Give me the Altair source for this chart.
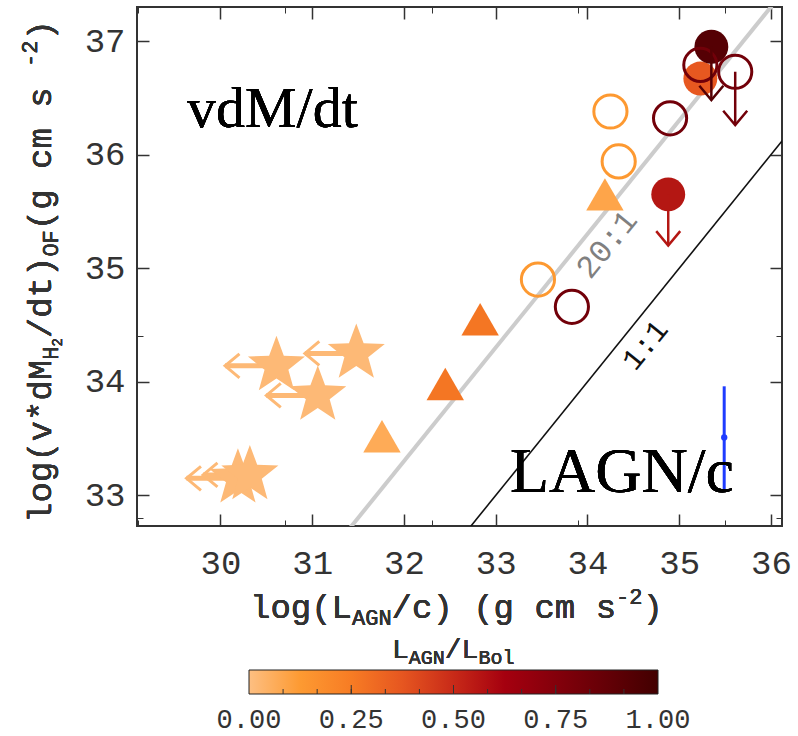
import altair as alt
import numpy as np
import pandas as pd

MONO = "Liberation Mono"
SERIF = "Liberation Serif"

# ---------------- data ----------------
# Stars: upper limits on log(L_AGN/c) (arrow to the left)
star_x = [30.61, 31.48, 31.06, 30.19, 30.32]
star_y = [34.14, 34.25, 33.88, 33.15, 33.18]
star_xlim = [30.05, 30.92, 30.50, 29.63, 29.81]
star_frac = [0.02, 0.02, 0.02, 0.02, 0.02]

# Triangles
tri_x = [31.76, 32.45, 32.83, 34.19]
tri_y = [33.52, 33.98, 34.55, 35.65]
tri_frac = [0.07, 0.27, 0.27, 0.09]

# Open circles
oc_x = [33.46, 34.25, 34.34, 33.83, 34.90, 35.23, 35.61]
oc_y = [34.90, 36.38, 35.94, 34.66, 36.32, 36.79, 36.73]
oc_frac = [0.13, 0.13, 0.13, 0.82, 0.82, 0.82, 0.82]

# Filled circles
fc_x = [35.23, 34.88, 35.35]
fc_y = [36.67, 35.65, 36.95]
fc_frac = [0.37, 0.57, 0.93]

# Upper limits on the outflow force (arrow downwards)
ul_x = [34.88, 35.61, 35.35]
ul_y = [35.65, 36.73, 36.95]
ul_ylim = [35.20, 36.26, 36.48]
ul_frac = [0.57, 0.82, 0.93]

# Typical uncertainty
err_x = [35.49]
err_y = [33.51]
err_lo = [33.04]
err_hi = [33.96]

# Reference ratios F_OF : L_AGN/c
ratio_values = [20, 1]
ratio_labels = ["20:1", "1:1"]
ratio_label_x = [34.21, 34.63]
ratio_label_y = [35.21, 34.32]
line_x = [29.0, 37.0]

x_ticks = [30, 31, 32, 33, 34, 35, 36]
y_ticks = [33, 34, 35, 36, 37]
cbar_ticks = [0.0, 0.25, 0.5, 0.75, 1.0]
cbar_labels = ["0.00", "0.25", "0.50", "0.75", "1.00"]
cbar_minor = [k / 12 for k in range(1, 12)]

cmap_stops = [0.0, 0.125, 0.25, 0.375, 0.5, 0.625, 0.75, 0.875, 1.0]
cmap_colors = ["#fdbf82", "#fd9a32", "#f77c24", "#e65620", "#c82a18",
               "#a5000f", "#84000b", "#640006", "#420000"]

# ---------------- tables ----------------
stars = pd.DataFrame(dict(x=star_x, y=star_y, xlim=star_xlim, frac=star_frac))
tris = pd.DataFrame(dict(x=tri_x, y=tri_y, frac=tri_frac))
ocirc = pd.DataFrame(dict(x=oc_x, y=oc_y, frac=oc_frac))
fcirc = pd.DataFrame(dict(x=fc_x, y=fc_y, frac=fc_frac))
ulim = pd.DataFrame(dict(x=ul_x, y=ul_y, ylim=ul_ylim, frac=ul_frac))
err = pd.DataFrame(dict(x=err_x, y=err_y, lo=err_lo, hi=err_hi))
ratio_lines = {
    r: pd.DataFrame(dict(x=line_x, y=[v + np.log10(r) for v in line_x]))
    for r in ratio_values
}

XMIN, XMAX = 29.09, 36.12
YMIN, YMAX = 32.73, 37.30
W, H = 645, 519

xs = alt.Scale(domain=[XMIN, XMAX], nice=False, zero=False)
ys = alt.Scale(domain=[YMIN, YMAX], nice=False, zero=False)
cs = alt.Scale(domain=cmap_stops, range=cmap_colors)

X = lambda f="x": alt.X(f"{f}:Q", scale=xs, axis=None)
Y = lambda f="y": alt.Y(f"{f}:Q", scale=ys, axis=None)
C = alt.Color("frac:Q", scale=cs, legend=None)

STAR = ("M0,-1L0.245,-0.337L0.951,-0.309L0.397,0.129L0.588,0.809"
        "L0,0.417L-0.588,0.809L-0.397,0.129L-0.951,-0.309L-0.245,-0.337Z")
LEFT_HEAD = "M1.2,-1L0,0L1.2,1"
DOWN_HEAD = "M-1,-1.2L0,0L1,-1.2"

# ---------------- inward IDL-style ticks ----------------
minor_x = [round(v, 1) for v in np.arange(29.1, 36.11, 0.1)]
minor_y = [round(v, 1) for v in np.arange(32.8, 37.31, 0.1)]


def frame_axes(orient_x, orient_y, xv, yv, size, labels):
    common = dict(tickSize=size, offset=-size, domain=False, grid=False,
                  title=None, tickColor="#333", tickWidth=1.5 if size > 8 else 1)
    xa = alt.Axis(orient=orient_x, values=xv, labels=labels, labelFont=MONO,
                  labelFontSize=34, labelColor="#333", labelPadding=20,
                  labelFlush=False, format="d", **common)
    ya = alt.Axis(orient=orient_y, values=yv, labels=labels, labelFont=MONO,
                  labelFontSize=34, labelColor="#333", labelPadding=12,
                  labelFlush=False, format="d", **common)
    return alt.Chart(stars).mark_point(opacity=0).encode(
        x=alt.X("x:Q", scale=xs, axis=xa), y=alt.Y("y:Q", scale=ys, axis=ya))


axes = [
    frame_axes("bottom", "left", x_ticks, y_ticks, 12, True),
    frame_axes("bottom", "left", minor_x, minor_y, 6, False),
    frame_axes("top", "right", x_ticks, y_ticks, 12, False),
    frame_axes("top", "right", minor_x, minor_y, 6, False),
]

# ---------------- reference lines ----------------
line20 = alt.Chart(ratio_lines[20]).mark_line(
    clip=True, color="#cccccc", strokeWidth=4).encode(x=X(), y=Y())
line1 = alt.Chart(ratio_lines[1]).mark_line(
    clip=True, color="#111111", strokeWidth=1.6).encode(x=X(), y=Y())

lab_df = pd.DataFrame(dict(t=ratio_labels, x=ratio_label_x, y=ratio_label_y))
lab20 = alt.Chart(lab_df.iloc[[0]]).mark_text(
    font=MONO, fontSize=32, color="#808080", angle=309, align="center",
    baseline="middle").encode(x=X(), y=Y(), text="t:N")
lab1 = alt.Chart(lab_df.iloc[[1]]).mark_text(
    font=MONO, fontSize=30, color="#111111", angle=309, align="center",
    baseline="middle").encode(x=X(), y=Y(), text="t:N")

# ---------------- data marks ----------------
star_shaft = alt.Chart(stars).mark_rule(strokeWidth=5).encode(
    x=X(), x2="xlim:Q", y=Y(), color=C)
star_head = alt.Chart(stars).mark_point(
    shape=LEFT_HEAD, filled=False, size=576, strokeWidth=3, opacity=1
).encode(x=X("xlim"), y=Y(), color=C)
star_pts = alt.Chart(stars).mark_point(
    shape=STAR, filled=True, size=3600, opacity=1).encode(x=X(), y=Y(), color=C)

tri_pts = alt.Chart(tris).mark_point(
    shape="triangle-up", filled=True, size=1400, opacity=1
).encode(x=X(), y=Y(), color=C)

fc_pts = alt.Chart(fcirc).mark_point(
    shape="circle", filled=True, size=1150, opacity=1
).encode(x=X(), y=Y(), color=C)
oc_pts = alt.Chart(ocirc).mark_point(
    shape="circle", filled=False, size=1100, strokeWidth=3, opacity=1
).encode(x=X(), y=Y(), color=C)

ul_shaft = alt.Chart(ulim).mark_rule(strokeWidth=2.5).encode(
    x=X(), y=Y(), y2="ylim:Q", color=C)
ul_head = alt.Chart(ulim).mark_point(
    shape=DOWN_HEAD, filled=False, size=576, strokeWidth=2.5, opacity=1
).encode(x=X(), y=Y("ylim"), color=C)

err_bar = alt.Chart(err).mark_rule(color="#1f3cff", strokeWidth=3).encode(
    x=X(), y=Y("lo"), y2="hi:Q")
err_pt = alt.Chart(err).mark_point(
    shape="circle", filled=True, size=40, color="#1f3cff", opacity=1
).encode(x=X(), y=Y())

# ---------------- colour bar (L_AGN / L_Bol) ----------------
# its own horizontal scale: 0 -> 112 px, 1 -> 521 px from the plot's left edge
CB_LEFT, CB_LEN = 112, 409
cbx = alt.Scale(domain=[-CB_LEFT / CB_LEN, (W - CB_LEFT) / CB_LEN],
                nice=False, zero=False)
CB_TOP, CB_BOT = 663, 687

cbar_grad = alt.LinearGradient(
    gradient="linear", x1=0, x2=1, y1=0, y2=0,
    stops=[alt.GradientStop(offset=s, color=c)
           for s, c in zip(cmap_stops, cmap_colors)],
)
cb_span = pd.DataFrame(dict(a=[cbar_ticks[0]], b=[cbar_ticks[-1]]))
cbar = alt.Chart(cb_span).mark_rect(
    fill=cbar_grad, stroke="#222", strokeWidth=1
).encode(x=alt.X("a:Q", scale=cbx, axis=None), x2="b:Q",
         y=alt.value(CB_TOP), y2=alt.value(CB_BOT))

cb_minor = alt.Chart(pd.DataFrame(dict(v=cbar_minor))).mark_rule(
    color="#333", strokeWidth=1
).encode(x=alt.X("v:Q", scale=cbx, axis=None),
         y=alt.value(CB_BOT), y2=alt.value(CB_BOT - 5))
cb_major = alt.Chart(pd.DataFrame(dict(v=cbar_ticks[1:-1]))).mark_rule(
    color="#333", strokeWidth=1
).encode(x=alt.X("v:Q", scale=cbx, axis=None),
         y=alt.value(CB_BOT), y2=alt.value(CB_BOT - 9))
cb_labels = alt.Chart(pd.DataFrame(dict(v=cbar_ticks, t=cbar_labels))).mark_text(
    font=MONO, fontSize=27, color="#333", align="center", baseline="middle"
).encode(x=alt.X("v:Q", scale=cbx, axis=None), y=alt.value(713), text="t:N")

# ---------------- annotations and titles ----------------
ann_vdm = alt.Chart(stars).mark_text(
    text="vdM/dt", font=SERIF, fontSize=58, color="black", align="left",
    baseline="alphabetic").encode(x=alt.value(50), y=alt.value(120))
ann_lagn = alt.Chart(stars).mark_text(
    text="LAGN/c", font=SERIF, fontSize=64, color="black", align="left",
    baseline="alphabetic").encode(x=alt.value(373), y=alt.value(485))


def rich_text(pieces, x0, y0, vertical=False, color="#333"):
    """Lay out a title made of normal / sub / superscript runs (monospace)."""
    layers = []
    pos = 0.0
    for txt, fs, shift in pieces:
        if vertical:
            px, py = x0 + shift, y0 - pos
        else:
            px, py = x0 + pos, y0 + shift
        layers.append(
            alt.Chart(stars).mark_text(
                text=txt, font=MONO, fontSize=fs, color=color, align="left",
                baseline="alphabetic", angle=270 if vertical else 0,
            ).encode(x=alt.value(px), y=alt.value(py))
        )
        pos += len(txt) * 0.6 * fs
    return layers


x_title = rich_text(
    [("log(L", 34, 0), ("AGN", 22, 7), ("/c) (g cm s", 34, 0),
     ("-2", 22, -14), (")", 34, 0)], 113, 611)
y_title = rich_text(
    [("log(v*dM", 34, 0), ("H", 22, 7), ("2", 14, 11), ("/dt)", 34, 0),
     ("OF", 22, 7), (" (g cm s", 34, 0), ("-2", 22, -14), (")", 34, 0)],
    -86, 516, vertical=True)
cbar_title = rich_text(
    [("L", 28, 0), ("AGN", 20, 6), ("/", 28, 0), ("L", 28, 0), ("Bol", 20, 6)],
    255, 651)

chart = alt.layer(
    *axes, line20, line1, lab20, lab1,
    star_shaft, star_head, star_pts, tri_pts, fc_pts, oc_pts,
    ul_shaft, ul_head, err_bar, err_pt, ann_vdm, ann_lagn,
    cbar, cb_minor, cb_major, cb_labels,
    *x_title, *y_title, *cbar_title,
).resolve_scale(
    x="independent"
).resolve_axis(
    x="independent", y="independent"
).properties(
    width=W, height=H,
    autosize=alt.AutoSizeParams(type="none"),
    padding={"left": 137, "top": 7, "right": 16, "bottom": 210},
    background="white",
).configure_view(stroke="#333333", strokeWidth=2)

chart.save("out.html", embed_options={"renderer": "svg", "actions": False})
